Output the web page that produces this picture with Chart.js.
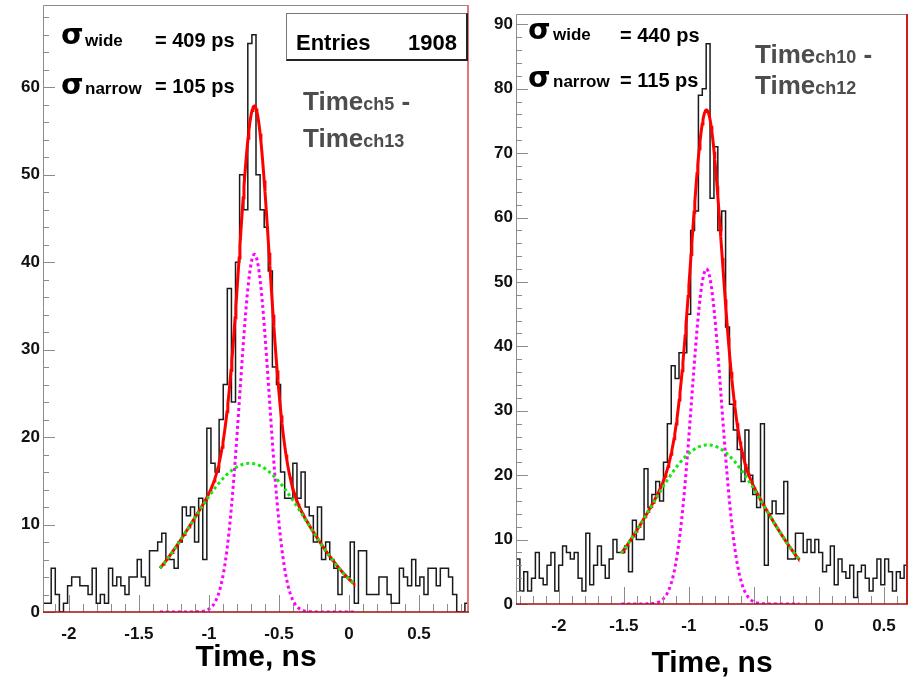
<!DOCTYPE html>
<html>
<head>
<meta charset="utf-8">
<script src="https://cdn.jsdelivr.net/npm/chart.js@4.4.1/dist/chart.umd.min.js"></script>
<style>
  body { margin: 0; background: #fff; }
  #wrap { position: relative; width: 912px; height: 679px; overflow: hidden;
          font-family: 'Liberation Sans', Arial, sans-serif; font-weight: bold; color: #000; }
  canvas { position: absolute; top: 0; }
  .t { position: absolute; white-space: nowrap; line-height: 1; }
  .sig { font-family: 'DejaVu Sans', sans-serif; font-size: 29px; }
  .sub { font-size: 17px; }
  .val { font-size: 20px; }
  .ent { font-size: 22px; }
  .time { font-size: 26px; color: #4d4d4d; }
  .time small { font-size: 18px; }
  .box { position: absolute; box-sizing: border-box; background: #fff;
         border: 1px solid #777; border-right: 2px solid #222; border-bottom: 2px solid #222; }
</style>
</head>
<body>
<div id="wrap">
  <canvas id="left" width="480" height="679" style="left:0"></canvas>
  <canvas id="right" width="432" height="679" style="left:480px"></canvas>

  <span class="t sig" style="left:61px;top:20px">σ</span>
  <span class="t sub" style="left:85px;top:32px">wide</span>
  <span class="t val" style="left:155px;top:30px">= 409 ps</span>
  <span class="t sig" style="left:61px;top:70px">σ</span>
  <span class="t sub" style="left:85px;top:80px">narrow</span>
  <span class="t val" style="left:155px;top:76px">= 105 ps</span>
  <div class="box" style="left:286px;top:13px;width:182px;height:48px"></div>
  <span class="t ent" style="left:296px;top:32px">Entries</span>
  <span class="t ent" style="right:455px;top:32px">1908</span>
  <span class="t time" style="left:303px;top:88px">Time<small>ch5</small> -</span>
  <span class="t time" style="left:303px;top:125px">Time<small>ch13</small></span>

  <span class="t sig" style="left:528px;top:15px">σ</span>
  <span class="t sub" style="left:553px;top:26px">wide</span>
  <span class="t val" style="left:620px;top:25px">= 440 ps</span>
  <span class="t sig" style="left:528px;top:63px">σ</span>
  <span class="t sub" style="left:553px;top:73px">narrow</span>
  <span class="t val" style="left:620px;top:70px">= 115 ps</span>
  <span class="t time" style="left:755px;top:41px">Time<small>ch10</small> -</span>
  <span class="t time" style="left:755px;top:72px">Time<small>ch12</small></span>
</div>
<script>
// histogram contents, one value per bin, left to right
const leftCounts = [1,1,5,2,0,1,3,4,4,3, 3,2,5,1,2,1,5,3,4,3, 2,4,4,6,4,3,7,7,8,9,
  6,6,5,8,12,11,12,8,13,6, 21,17,16,22,26,37,24,40,50,46, 65,66,50,46,44,39,28,26,16,13,
  13,17,13,16,12,11,8,12,6,8, 6,5,2,4,4,8,1,7,7,2, 2,2,4,4,2,1,1,5,4,3,
  6,3,4,2,5,5,3,5,5,4, 2,0,0,1];
const rightCounts = [7,2,5,2,4,8,4,3,6,8, 2,6,9,8,7,8,4,2,11,3, 6,9,6,4,7,10,8,8,9,5,
  13,10,10,21,15,17,19,16,22,28, 37,35,39,39,45,58,61,79,80,87, 63,71,58,61,43,31,
  27,24,19,27,20,17,15,28,6,14, 16,14,14,19,7,7,11,11,8,10, 8,10,8,5,6,9,3,7,5,4,
  6,1,5,6,4,2,4,7,3,7, 5,2,5,4,6];

// axis ranges: [xmin, xmax, ymax]
const leftRange = [-2.185, 0.857, 69.4];
const rightRange = [-2.33, 0.685, 91.6];

// double gaussian fits: [amplitude, mean, sigma] for wide and narrow parts, fit window
const leftWide = [17.0, -0.71, 0.409];
const leftNarrow = [40.9, -0.675, 0.105];
const leftWindow = [-1.35, 0.035];
const rightWide = [24.7, -0.855, 0.440];
const rightNarrow = [52.0, -0.865, 0.115];
const rightWindow = [-1.52, -0.15];

function gauss(p, x) {
  return p[0] * Math.exp(-0.5 * Math.pow((x - p[1]) / p[2], 2));
}

function histPoints(counts, lo, hi) {
  const w = (hi - lo) / counts.length;
  const pts = counts.map((c, i) => ({x: lo + i * w, y: c}));
  pts.push({x: hi, y: counts[counts.length - 1]});
  return pts;
}

function curve(win, fn) {
  const pts = [];
  const n = 240;
  for (let i = 0; i <= n; i++) {
    const x = win[0] + (win[1] - win[0]) * i / n;
    pts.push({x: x, y: fn(x)});
  }
  return pts;
}

// inward tick marks and the coloured frame
const frame = {
  id: 'frame',
  afterDatasetsDraw(chart, args, opts) {
    const {ctx, chartArea: a, scales: {x, y}} = chart;
    ctx.save();
    ctx.lineWidth = 1;
    ctx.strokeStyle = '#8c8c8c';
    ctx.beginPath();
    for (let v = 0; v <= y.max; v += 2) {
      const py = Math.round(y.getPixelForValue(v)) + 0.5;
      ctx.moveTo(a.left, py);
      ctx.lineTo(a.left + (v % 10 === 0 ? 12 : 6), py);
    }
    for (let k = Math.ceil(x.min * 10); k <= x.max * 10; k++) {
      const px = Math.round(x.getPixelForValue(k / 10)) + 0.5;
      ctx.moveTo(px, a.bottom);
      ctx.lineTo(px, a.bottom - (k % 5 === 0 ? 17 : 8));
    }
    ctx.stroke();

    ctx.beginPath();
    ctx.moveTo(a.left + 0.5, a.bottom);
    ctx.lineTo(a.left + 0.5, a.top + 0.5);
    ctx.lineTo(a.right, a.top + 0.5);
    ctx.stroke();

    ctx.lineWidth = 2;
    ctx.strokeStyle = opts.rightColor;
    ctx.beginPath();
    ctx.moveTo(a.right - 1, a.top);
    ctx.lineTo(a.right - 1, a.bottom);
    ctx.stroke();

    ctx.lineWidth = 1.5;
    ctx.strokeStyle = '#a01010';
    ctx.beginPath();
    ctx.moveTo(a.left, a.bottom);
    ctx.lineTo(a.right, a.bottom);
    ctx.stroke();
    ctx.restore();
  }
};

const tickFont = {family: "'Liberation Sans', Arial, sans-serif", size: 17, weight: 'bold'};

function makeChart(id, counts, range, wide, narrow, win, geo) {
  return new Chart(document.getElementById(id), {
    type: 'line',
    data: {
      datasets: [{
        data: curve(win, x => gauss(wide, x)),
        borderColor: '#14e614',
        borderWidth: 3,
        borderDash: [3, 3]
      }, {
        data: curve(win, x => gauss(narrow, x)),
        borderColor: '#ff00ff',
        borderWidth: 3,
        borderDash: [3, 3]
      }, {
        data: curve(win, x => gauss(wide, x) + gauss(narrow, x)),
        borderColor: '#ff0000',
        borderWidth: 3
      }, {
        data: histPoints(counts, range[0], range[1]),
        borderColor: '#1a1a1a',
        borderWidth: 1.5,
        stepped: 'before'
      }]
    },
    options: {
      responsive: false,
      animation: false,
      devicePixelRatio: 1,
      parsing: false,
      elements: {point: {radius: 0}, line: {tension: 0, fill: false}},
      layout: {padding: {left: 0, top: geo.top, right: geo.right, bottom: 0}},
      plugins: {legend: {display: false}, tooltip: {enabled: false}, frame: {rightColor: geo.rightColor}},
      scales: {
        x: {
          type: 'linear',
          min: range[0],
          max: range[1],
          grid: {display: false, drawTicks: false},
          border: {display: false},
          ticks: {
            stepSize: 0.5,
            includeBounds: false,
            autoSkip: false,
            maxRotation: 0,
            padding: 12,
            color: '#111',
            font: tickFont,
            callback: v => Math.abs(v * 2 - Math.round(v * 2)) < 1e-6 ? String(Number(v.toFixed(1))) : ''
          },
          title: {
            display: true,
            text: 'Time, ns',
            color: '#000',
            font: {family: "'Liberation Sans', Arial, sans-serif", size: 30, weight: 'bold', lineHeight: 1},
            padding: {top: 0, bottom: geo.titlePad}
          },
          afterFit: s => { s.height = geo.xHeight; s.paddingLeft = 0; s.paddingRight = 0; }
        },
        y: {
          type: 'linear',
          min: 0,
          max: range[2],
          grid: {display: false, drawTicks: false},
          border: {display: false},
          ticks: {
            stepSize: 10,
            includeBounds: false,
            padding: 3,
            color: '#111',
            font: tickFont,
            callback: v => v % 10 === 0 ? v : ''
          },
          afterFit: s => { s.width = geo.yWidth; s.paddingTop = 0; s.paddingBottom = 0; }
        }
      }
    },
    plugins: [frame]
  });
}

makeChart('left', leftCounts, leftRange, leftWide, leftNarrow, leftWindow,
  {top: 5, right: 11, yWidth: 43, xHeight: 67, titlePad: 6, rightColor: '#e47878'});
makeChart('right', rightCounts, rightRange, rightWide, rightNarrow, rightWindow,
  {top: 14, right: 4, yWidth: 36, xHeight: 75, titlePad: 0, rightColor: '#cc1f1f'});
</script>
</body>
</html>
